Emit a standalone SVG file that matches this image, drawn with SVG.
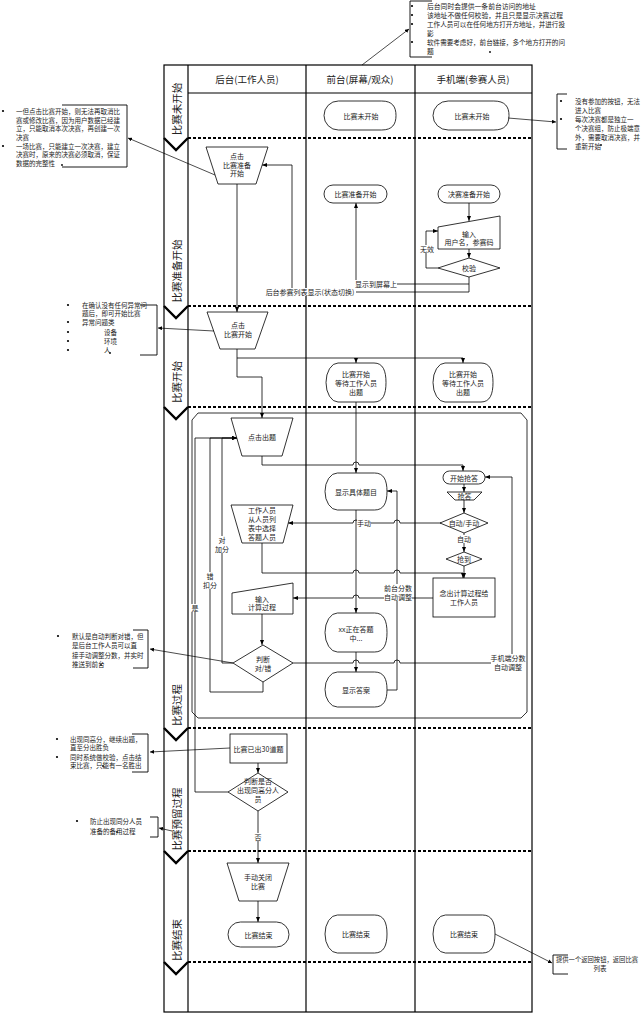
<svg xmlns="http://www.w3.org/2000/svg" width="643" height="1024" viewBox="0 0 643 1024">
<defs>
<marker id="ar" markerWidth="5" markerHeight="4" refX="5" refY="2" orient="auto" markerUnits="userSpaceOnUse"><path d="M0,0 L5,2 L0,4 z" fill="#000"/></marker>
<marker id="ns" markerWidth="4" markerHeight="4" refX="4" refY="2" orient="auto" markerUnits="userSpaceOnUse"><path d="M0,0 L4,2 L0,4 z" fill="#000"/></marker>
<style>
.fr{stroke:#000;stroke-width:1.2;fill:none}
.ds{stroke:#000;stroke-width:2;stroke-dasharray:3 2;fill:none}
.cv{stroke:#000;stroke-width:2.4;fill:none}
.nd{fill:#fff;stroke:#000;stroke-width:0.8}
.ln{fill:none;stroke:#000;stroke-width:0.8}
.ar{marker-end:url(#ar)}
.nl{fill:none;stroke:#000;stroke-width:0.7;marker-end:url(#ns)}
.br{fill:none;stroke:#000;stroke-width:0.9}
text{font-family:"Noto Sans CJK SC","Noto Sans",sans-serif;fill:#222}
.t{font-size:7px;text-anchor:middle;dominant-baseline:central}
.h{font-size:9.5px;text-anchor:middle;dominant-baseline:central}
.p{font-size:10.5px;text-anchor:middle;dominant-baseline:central}
.n{font-size:6.5px;dominant-baseline:central}
.n7{font-size:6.8px;dominant-baseline:central}
.bg{fill:#fff}
.dot{fill:#000}
</style>
</defs>
<rect width="643" height="1024" fill="#fff"/>

<g id="frame">
<rect class="fr" x="164" y="65" width="368" height="947"/>
<line class="fr" x1="188" y1="65" x2="188" y2="1012"/>
<line class="fr" x1="306" y1="65" x2="306" y2="1012"/>
<line class="fr" x1="415" y1="65" x2="415" y2="1012"/>
<line class="fr" x1="188" y1="93" x2="532" y2="93"/>
<text class="h" x="247" y="79">后台(工作人员)</text>
<text class="h" x="360" y="79">前台(屏幕/观众)</text>
<text class="h" x="473" y="79">手机端(参赛人员)</text>
</g>

<g id="phases">
<line class="ds" x1="188" y1="138" x2="532" y2="138"/>
<line class="ds" x1="188" y1="306" x2="532" y2="306"/>
<line class="ds" x1="188" y1="407" x2="532" y2="407"/>
<line class="ds" x1="188" y1="728" x2="532" y2="728"/>
<line class="ds" x1="188" y1="851" x2="532" y2="851"/>
<line class="ds" x1="188" y1="962" x2="532" y2="962"/>
<polyline class="cv" points="164,138 176,150 188,138"/>
<polyline class="cv" points="164,306 176,318 188,306"/>
<polyline class="cv" points="164,407 176,419 188,407"/>
<polyline class="cv" points="164,728 176,740 188,728"/>
<polyline class="cv" points="164,851 176,863 188,851"/>
<polyline class="cv" points="164,962 176,974 188,962"/>
<text class="p" transform="translate(176,109) rotate(-90)">比赛未开始</text>
<text class="p" transform="translate(176,271) rotate(-90)">比赛准备开始</text>
<text class="p" transform="translate(176,382) rotate(-90)">比赛开始</text>
<text class="p" transform="translate(176,705) rotate(-90)">比赛过程</text>
<text class="p" transform="translate(176,819) rotate(-90)">比赛预留过程</text>
<text class="p" transform="translate(176,940) rotate(-90)">比赛结束</text>
</g>

<g id="inner-frame">
<polygon class="ln" points="198,413 521,413 527,420 527,712 521,718 198,718 192,712 192,420"/>
</g>

<g id="connectors">
<path class="ln ar" d="M237,184 V312"/>
<path class="ln ar" d="M469,203 V221"/>
<path class="ln ar" d="M469,249 V258"/>
<path class="ln ar" d="M438,268 H426 V231 H438"/>
<path class="ln ar" d="M469,277 V284 H356 V203"/>
<path class="ln ar" d="M469,284 V292 H292 V165 H262"/>
<path class="ln ar" d="M237,349 V377 H262 V418"/>
<path class="ln" d="M237,358 H463"/>
<path class="ln ar" d="M463,358 V363"/>
<path class="ln ar" d="M356,358 V363"/>
<path class="ln ar" d="M356,402 V473"/>
<path class="ln ar" d="M262,456 V465 H353 A3,3 0 0 1 359,465 H463 V471"/>
<path class="ln ar" d="M464,484 V492"/>
<path class="ln ar" d="M464,500 V513"/>
<path class="ln ar" d="M441,523 H400 A3,3 0 0 0 394,523 H359 A3,3 0 0 0 353,523 H288"/>
<path class="ln ar" d="M464,533 V552"/>
<path class="ln ar" d="M464,566 V578"/>
<path class="ln ar" d="M262,543 V573 H353 A3,3 0 0 1 359,573 H394 A3,3 0 0 1 400,573 H463 V578"/>
<path class="ln ar" d="M433,598 H400 A3,3 0 0 0 394,598 H359 A3,3 0 0 0 353,598 H293"/>
<path class="ln ar" d="M262,614 V645"/>
<path class="ln ar" d="M233,663 H222 V438 H237"/>
<path class="ln ar" d="M263,682 V692 H210 V438 H237"/>
<path class="ln ar" d="M228,792 H195 V438 H237"/>
<path class="ln ar" d="M293,663 H353 A3,3 0 0 1 359,663 H394 A3,3 0 0 1 400,663 H512 V477 H485"/>
<path class="ln ar" d="M356,510 V613"/>
<path class="ln ar" d="M356,652 V672"/>
<path class="ln ar" d="M387,690 H397 V491 H387"/>
<path class="ln ar" d="M258,763 V773"/>
<path class="ln ar" d="M258,811 V863"/>
<path class="ln ar" d="M258,901 V922"/>

<rect class="bg" x="355" y="280" width="42" height="8"/>
<text class="t" x="376" y="284">显示到屏幕上</text>
<rect class="bg" x="264" y="288" width="92" height="8"/>
<text class="t" x="310" y="292">后台参赛列表显示(状态切换)</text>
<rect class="bg" x="420" y="245" width="14" height="8"/>
<text class="t" x="427" y="249">无效</text>
<rect class="bg" x="357" y="519" width="14" height="8"/>
<text class="t" x="364" y="523">手动</text>
<rect class="bg" x="457" y="535" width="14" height="8"/>
<text class="t" x="464" y="539">自动</text>
<rect class="bg" x="215" y="536" width="14" height="17"/>
<text class="t" x="222" y="540">对</text>
<text class="t" x="222" y="549">加分</text>
<rect class="bg" x="203" y="572" width="14" height="17"/>
<text class="t" x="210" y="576">错</text>
<text class="t" x="210" y="585">扣分</text>
<rect class="bg" x="191" y="604" width="8" height="8"/>
<text class="t" x="195" y="608">是</text>
<rect class="bg" x="384" y="584" width="28" height="17"/>
<text class="t" x="398" y="588">前台分数</text>
<text class="t" x="398" y="597">自动调整</text>
<rect class="bg" x="491" y="654" width="35" height="17"/>
<text class="t" x="508" y="658">手机端分数</text>
<text class="t" x="508" y="667">自动调整</text>
<rect class="bg" x="254" y="833" width="8" height="8"/>
<text class="t" x="258" y="837">否</text>
</g>

<g id="n-fr-notstart">
<path class="nd" d="M338.4,101 H381.6 C392.4,101 396,106.8 396,115.5 C396,124.2 392.4,130 381.6,130 H338.4 A14.4,14.5 0 0 1 338.4,101 Z"/>
<text class="t" x="361" y="116">比赛未开始</text>
</g>
<g id="n-ph-notstart">
<path class="nd" d="M448.2,101 H493.8 C505.2,101 509,106.8 509,115.5 C509,124.2 505.2,130 493.8,130 H448.2 A15.2,14.5 0 0 1 448.2,101 Z"/>
<text class="t" x="472" y="116">比赛未开始</text>
</g>

<g id="n-bk-prep">
<polygon class="nd" points="206,147 268,147 256,184 218,184"/>
<text class="t" x="237" y="156">点击</text>
<text class="t" x="237" y="165">比赛准备</text>
<text class="t" x="237" y="173">开始</text>
</g>
<g id="n-fr-prep">
<rect class="nd" x="324" y="185" width="63" height="18" rx="9"/>
<text class="t" x="355.5" y="194">比赛准备开始</text>
</g>
<g id="n-ph-prep">
<rect class="nd" x="438" y="185" width="62" height="18" rx="9"/>
<text class="t" x="469" y="194">决赛准备开始</text>
</g>
<g id="n-ph-input">
<polygon class="nd" points="438,227 500,216 500,249 438,249"/>
<text class="t" x="469" y="234">输入</text>
<text class="t" x="469" y="242">用户名，参赛码</text>
</g>
<g id="n-ph-check">
<polygon class="nd" points="469,258 500,268 469,277 438,268"/>
<text class="t" x="469" y="267.5">校验</text>
</g>

<g id="n-bk-start">
<polygon class="nd" points="207,312 268,312 255,349 220,349"/>
<text class="t" x="238" y="325">点击</text>
<text class="t" x="238" y="334">比赛开始</text>
</g>
<g id="n-fr-wait">
<path class="nd" d="M338,363 H374 C383,363 386,370.8 386,382.5 C386,394.2 383,402 374,402 H338 A12,19.5 0 0 1 338,363 Z"/>
<text class="t" x="356" y="374">比赛开始</text>
<text class="t" x="356" y="383">等待工作人员</text>
<text class="t" x="356" y="392">出题</text>
</g>
<g id="n-ph-wait">
<path class="nd" d="M445,363 H481 C490,363 493,370.8 493,382.5 C493,394.2 490,402 481,402 H445 A12,19.5 0 0 1 445,363 Z"/>
<text class="t" x="463" y="374">比赛开始</text>
<text class="t" x="463" y="383">等待工作人员</text>
<text class="t" x="463" y="392">出题</text>
</g>

<g id="n-bk-question">
<polygon class="nd" points="231,418 293,418 282,456 242,456"/>
<text class="t" x="262" y="437">点击出题</text>
</g>
<g id="n-fr-show">
<path class="nd" d="M337.4,473 H374.6 C383.9,473 387,480.4 387,491.5 C387,502.6 383.9,510 374.6,510 H337.4 A12.4,18.5 0 0 1 337.4,473 Z"/>
<text class="t" x="356" y="491.5">显示具体题目</text>
</g>
<g id="n-ph-startans">
<rect class="nd" x="443" y="471" width="42" height="13" rx="6.5"/>
<text class="t" x="464" y="477.5">开始抢答</text>
</g>
<g id="n-ph-grab">
<polygon class="nd" points="447,492 482,492 474,500 455,500"/>
<text class="t" x="464.5" y="496">抢答</text>
</g>
<g id="n-ph-mode">
<polygon class="nd" points="464,513 488,523 464,533 440,523"/>
<text class="t" x="464" y="523">自动/手动</text>
</g>
<g id="n-bk-select">
<polygon class="nd" points="231,505 293,505 283,543 242,543"/>
<text class="t" x="262" y="510">工作人员</text>
<text class="t" x="262" y="519">从人员列</text>
<text class="t" x="262" y="528">表中选择</text>
<text class="t" x="262" y="537">答题人员</text>
</g>
<g id="n-ph-got">
<polygon class="nd" points="464,552 482,559 464,566 446,559"/>
<text class="t" x="464" y="559">抢到</text>
</g>
<g id="n-ph-read">
<rect class="nd" x="433" y="578" width="62" height="39"/>
<text class="t" x="464" y="593">念出计算过程给</text>
<text class="t" x="464" y="602">工作人员</text>
</g>
<g id="n-bk-input">
<polygon class="nd" points="232,593 293,583 293,614 232,614"/>
<text class="t" x="262" y="599">输入</text>
<text class="t" x="262" y="607">计算过程</text>
</g>
<g id="n-fr-answering">
<path class="nd" d="M337.4,613 H374.6 C383.9,613 387,620.8 387,632.5 C387,644.2 383.9,652 374.6,652 H337.4 A12.4,19.5 0 0 1 337.4,613 Z"/>
<text class="t" x="356" y="629">xx正在答题</text>
<text class="t" x="356" y="638">中...</text>
</g>
<g id="n-bk-judge">
<polygon class="nd" points="263,645 293,663 263,682 233,663"/>
<text class="t" x="263" y="659">判断</text>
<text class="t" x="263" y="668">对/错</text>
</g>
<g id="n-fr-answer">
<path class="nd" d="M337.4,672 H374.6 C383.9,672 387,679 387,689.5 C387,700 383.9,707 374.6,707 H337.4 A12.4,17.5 0 0 1 337.4,672 Z"/>
<text class="t" x="356" y="690">显示答案</text>
</g>

<g id="n-bk-30">
<rect class="nd" x="230" y="734" width="57" height="29"/>
<text class="t" x="258.5" y="748.5">比赛已出30道题</text>
</g>
<g id="n-bk-tie">
<polygon class="nd" points="258,773 288,792 258,811 228,792"/>
<text class="t" x="258" y="781">判断是否</text>
<text class="t" x="258" y="790">出现同高分人</text>
<text class="t" x="258" y="799">员</text>
</g>

<g id="n-bk-close">
<polygon class="nd" points="227,863 289,863 277,901 239,901"/>
<text class="t" x="258" y="877">手动关闭</text>
<text class="t" x="258" y="886">比赛</text>
</g>
<g id="n-bk-end">
<rect class="nd" x="228" y="922" width="61" height="25" rx="12.5"/>
<text class="t" x="258.5" y="934.5">比赛结束</text>
</g>
<g id="n-fr-end">
<path class="nd" d="M337.4,915 H374.6 C383.9,915 387,922.6 387,934 C387,945.4 383.9,953 374.6,953 H337.4 A12.4,19 0 0 1 337.4,915 Z"/>
<text class="t" x="356" y="934">比赛结束</text>
</g>
<g id="n-ph-end">
<path class="nd" d="M445.4,915 H482.6 C491.9,915 495,922.6 495,934 C495,945.4 491.9,953 482.6,953 H445.4 A12.4,19 0 0 1 445.4,915 Z"/>
<text class="t" x="464" y="934">比赛结束</text>
</g>

<g id="note-top-right">
<polyline class="br" points="432,1 410,1 410,57 432,57"/>
<path class="nl" d="M362,65 L409,29"/>
<circle class="dot" cx="412" cy="6" r="1.1"/>
<circle class="dot" cx="412" cy="15" r="1.1"/>
<circle class="dot" cx="412" cy="24" r="1.1"/>
<circle class="dot" cx="412" cy="42" r="1.1"/>
<circle class="dot" cx="490" cy="52" r="0.9"/>
<text class="n7" x="427" y="6">后台同时会提供一条前台访问的地址</text>
<text class="n7" x="427" y="15" textLength="136" lengthAdjust="spacingAndGlyphs">该地址不做任何校验，并且只是显示决赛过程</text>
<text class="n7" x="427" y="24" textLength="138" lengthAdjust="spacingAndGlyphs">工作人员可以在任何地方打开方地址，并进行投</text>
<text class="n7" x="427" y="33">影</text>
<text class="n7" x="427" y="42" textLength="138" lengthAdjust="spacingAndGlyphs">软件需要考虑好，前台链接，多个地方打开的问</text>
<text class="n7" x="427" y="51">题</text>
</g>

<g id="note-left-1">
<polyline class="br" points="62,105 127,105 127,167 62,167"/>
<path class="nl" d="M215,175 L128,138"/>
<circle class="dot" cx="3" cy="111" r="1.1"/>
<circle class="dot" cx="3" cy="146" r="1.1"/>
<circle class="dot" cx="62" cy="165" r="0.9"/>
<text class="n" x="16" y="111">一但点击比赛开始，则无法再取消比</text>
<text class="n" x="16" y="120">赛或修改比赛，因为用户数据已经建</text>
<text class="n" x="16" y="128">立，只能取消本次决赛，再创建一次</text>
<text class="n" x="16" y="137">决赛</text>
<text class="n" x="16" y="146">一场比赛，只能建立一次决赛，建立</text>
<text class="n" x="16" y="154">决赛时，原来的决赛必须取消，保证</text>
<text class="n" x="16" y="163">数据的完整性</text>
</g>

<g id="note-right-1">
<polyline class="br" points="567,94 557,94 557,149 567,149"/>
<path class="nl" d="M508,118 L556,122"/>
<circle class="dot" cx="561" cy="101" r="1.1"/>
<circle class="dot" cx="561" cy="119" r="1.1"/>
<circle class="dot" cx="601" cy="145" r="0.9"/>
<text class="n" x="575" y="101">没有参加的按钮，无法</text>
<text class="n" x="575" y="110">进入比赛</text>
<text class="n" x="575" y="119">每次决赛都是独立一</text>
<text class="n" x="575" y="128">个决赛组，防止极端意</text>
<text class="n" x="575" y="137">外，需要取消决赛，并</text>
<text class="n" x="575" y="146">重新开始</text>
</g>

<g id="note-left-2">
<polyline class="br" points="140,305 157,305 157,355 140,355"/>
<path class="nl" d="M214,331 L158,328"/>
<circle class="dot" cx="68" cy="305" r="1.1"/>
<circle class="dot" cx="68" cy="322" r="1.1"/>
<circle class="dot" cx="68" cy="332" r="1.1"/>
<circle class="dot" cx="68" cy="341" r="1.1"/>
<circle class="dot" cx="68" cy="350" r="1.1"/>
<circle class="dot" cx="110" cy="353" r="0.9"/>
<text class="n" x="82" y="305">在确认没有任何异常问</text>
<text class="n" x="82" y="313">题后，即可开始比赛</text>
<text class="n" x="82" y="322">异常问题类</text>
<text class="n" x="104" y="332">设备</text>
<text class="n" x="104" y="341">环境</text>
<text class="n" x="104" y="350">人</text>
</g>

<g id="note-left-3">
<polyline class="br" points="133,630 148,630 148,668 133,668"/>
<path class="nl" d="M233,663 L150,649"/>
<circle class="dot" cx="58" cy="636" r="1.1"/>
<circle class="dot" cx="101" cy="665" r="0.9"/>
<text class="n" x="72" y="636">默认是自动判断对错，但</text>
<text class="n" x="72" y="645">是后台工作人员可以直</text>
<text class="n" x="72" y="655">接手动调整分数，并实时</text>
<text class="n" x="72" y="664">推送到前台</text>
</g>

<g id="note-left-4">
<polyline class="br" points="132,734 148,734 148,772 132,772"/>
<path class="nl" d="M230,748 L150,752"/>
<circle class="dot" cx="57" cy="739" r="1.1"/>
<circle class="dot" cx="57" cy="757" r="1.1"/>
<circle class="dot" cx="103" cy="766" r="0.9"/>
<text class="n" x="70" y="739">出现同高分，继续出题，</text>
<text class="n" x="70" y="747">直至分出胜负</text>
<text class="n" x="70" y="757">同时系统做校验，点击结</text>
<text class="n" x="70" y="765">束比赛，只能有一名胜出</text>
</g>

<g id="note-left-5">
<polyline class="br" points="150,817 158,817 158,837 150,837"/>
<path class="nl" d="M172,831 L159,828"/>
<circle class="dot" cx="77" cy="821" r="1.1"/>
<circle class="dot" cx="117" cy="832" r="0.9"/>
<text class="n" x="90" y="821">防止出现同分人员</text>
<text class="n" x="90" y="831">准备的备用过程</text>
</g>

<g id="note-bottom-right">
<polyline class="br" points="568,955 553,955 553,974 568,974"/>
<path class="nl" d="M495,934 L552,963"/>
<text class="n" x="556" y="959" textLength="82" lengthAdjust="spacingAndGlyphs">提供一个返回按钮，返回比赛</text>
<text class="n" x="600" y="968" text-anchor="middle">列表</text>
</g>
</svg>
